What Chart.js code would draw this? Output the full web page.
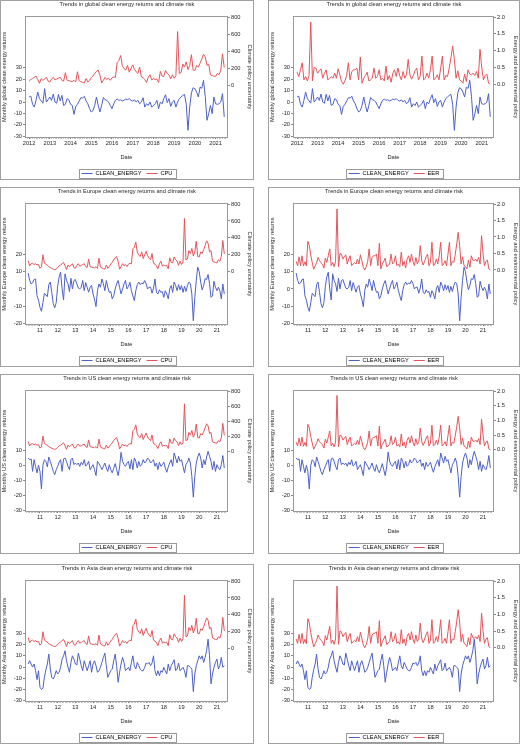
<!DOCTYPE html>
<html>
<head>
<meta charset="utf-8">
<script src="https://cdn.jsdelivr.net/npm/chart.js@4.4.1/dist/chart.umd.min.js"></script>
<style>
  html, body { margin: 0; padding: 0; background: #fff; }
  body { position: relative; width: 520px; height: 744px; overflow: hidden; }
  .panel { position: absolute; border: 1px solid #a0a0a0; box-sizing: border-box; background: #fff; }
  .panel canvas { display: block; }
</style>
</head>
<body>
<script>
// Monthly series. CPU, EER and the regional returns start in Nov 2010, the global returns in Jul 2012.
const seriesStart = [2010, 11];
const globalStart = [2012, 7];

// Climate policy uncertainty
const cpu = [
  130, 70,
  95, 100, 85, 95, 80, 85, 40, 60, 200, 100, 90, 75,
  60, 50, 40, 30, 25, 30, 50, 70, 80, 95, 110, 70,
  25, 80, 60, 75, 95, 50, 40, 75, 95, 65, 75, 85,
  95, 60, 50, 150, 60, 55, 50, 45, 60, 40, 160, 55,
  45, 35, 30, 80, 40, 60, 90, 110, 140, 165, 180, 120,
  30, 60, 95, 70, 85, 60, 90, 100, 95, 270, 290, 350,
  230, 195, 180, 235, 155, 200, 240, 190, 160, 140, 215, 100,
  90, 70, 35, 95, 125, 65, 80, 70, 75, 35, 165, 110,
  105, 175, 140, 125, 75, 125, 85, 115, 630, 140, 150, 250,
  215, 275, 185, 235, 360, 180, 175, 235, 215, 260, 310, 365,
  335, 235, 250, 125, 115, 110, 105, 140, 125, 180, 370, 210
];

// Energy and environmental policy uncertainty
const eer = [
  0.26, 0.13,
  0.40, 0.13, 0.43, 0.12, 0.25, 0.12, 0.87, 0.74, 0.45, 0.23, 0.02, 0.12,
  0.22, 0.38, 0.28, 0.22, 0.18, 0.06, 0.36, 0.23, 0.43, 0.64, 0.13, 0.23,
  0.10, 0.26, 1.85, 0.10, 0.50, 0.48, 0.33, 0.40, 0.46, 0.18, 0.33, 0.43,
  0.13, 0.18, 0.22, 0.18, 0.33, 0.18, 0.46, 0.28, 0.08, 0.00, 0.10, 0.26,
  0.64, 0.13, 0.38, 0.43, 0.43, 0.48, 0.13, 0.81, 0.03, 0.18, 0.26, 0.36,
  0.10, 0.13, 0.18, 0.48, 0.18, 0.23, 0.43, 0.13, 0.18, 0.10, 0.54, 0.13,
  0.26, 0.06, 0.33, 0.43, 0.23, 0.48, 0.26, 0.13, 0.38, 0.18, 0.28, 0.74,
  0.28, 0.15, 0.26, 0.40, 0.48, 0.13, 0.23, 0.84, 0.13, 0.18, 0.33, 0.18,
  0.43, 0.84, 0.13, 0.18, 0.28, 0.13, 0.48, 0.84, 0.13, 0.26, 0.23, 0.48,
  0.79, 1.14, 0.74, 0.18, 0.40, 0.13, 0.10, 0.03, 0.30, 0.08, 0.43, 0.30,
  0.28, 0.33, 0.26, 0.38, 0.18, 1.04, 0.51, 0.13, 0.26, 0.30, 0.03, 0.00
];

// Monthly clean energy returns (%)
const globalCE = [
  4.4, 5.2, -2, -4.4, 1.5, 8.7,
  3, 1, -1, 11.7, 0, 2, 4.4, 1.5, 7, 0, -1, 6.7,
  1, 5.8, -3, -2, 3, 2, -2, -3, -10.8, -4, -2, 1,
  3.8, 3.5, 5, 1, -1.5, -5.8, -8.7, -7.5, -3, 4.4, -3, -8.7,
  -3, 4, 2, 1.5, 0, -3, -5.8, -1.5, 1.5, 2.6, 1.5, 2,
  1, 1.5, 2.6, 2, 3, 1.5, 0.8, 2, 0, 1.5, -1.5, 0,
  3.8, -4.4, -1.5, -3, 0, -4.4, -3, -1.5, 1.5, -5.8, 0, -1.5,
  3, 6.4, -0.5, 3, -3.8, 0, 1.5, -4.4, 0, 3, 4.4, 5.8,
  6.7, -2, -24.8, -4.4, 8, 12.5, 11.7, 8.7, 4.4, 13, 12, 19,
  5, -16, -10.2, -3, -10.2, 4.4, -1.5, -2, -1.5, 0, 7.3, -13
];
const europeCE = [
  9.2, 5,
  2.9, 3.5, 5.5, 5.8, -4, -6.5, -10.7, -13, -8, -2.5, -3.5, -4.5,
  2.5, 4, -2, -8.5, -11, -8, 1.5, 7, 9.7, 0, -6.4, 8.8,
  4.9, 3, -1.5, 6.2, 0, 4.9, 5.5, 3, 0.5, 0, 1, 4.9,
  -1, 3.7, 1, -1.9, 1, 2, -2.9, -6, -10.3, -1, 2.9, 1,
  5.8, 3, -1, 4.9, 1, -2, -1.5, -5.8, -4, 0, 2.9, 4.9,
  1, -2.9, 0, 2.9, 4.9, 0, 1.5, 3.9, -1, -4, -6.8, -1,
  2.5, 4, 2.5, 3.5, 3, 4.9, 3, 0, 1, 1, -2.5, 0.5,
  5.8, -2, -2.9, -0.5, -2, -1.5, -4.9, -1, -2.9, -5.8, 0, 2,
  -2, 4, 2, -1, 2.5, -0.5, 2, -2, 1.5, -1.5, 2, 4,
  3, -3, -18.5, -5, 5, 12.7, 10, 4, -0.5, 2, 6, 5.5,
  8.4, 3, -4.9, -4, 4.5, 1, -1, 1, -1, -5.8, 2.9, -2.9
];
const usCE = [
  4.8, 3.7,
  4.2, -4, 3.7, -0.7, -5, 0, -4, -15.6, 0, 3.7, 2.6, -1,
  5.5, 2.6, -0.7, -4, -6.2, -2.9, -0.7, 2, 3.7, -4, 4.2, 4.8,
  2.6, -0.7, -2.9, 3.7, 4.8, 0.4, 1.5, 0.4, 1.5, -0.7, 2, 0.4,
  3.7, -0.5, 0.4, 2.6, -2.9, -1.1, 0.4, -2.9, -6.8, 2.6, 1.1, -0.7,
  -2.9, -0.7, 1.5, -1.8, -4, 0.4, -2.9, -5, -2, 1.1, -2.9, -6.8,
  -1.1, 8.6, 2.6, 0.4, -0.7, 1.5, 2.6, -2.4, 3.7, -2.9, 4.8, 2.6,
  -1.8, 2.6, -0.7, 0.4, 3.7, 1.5, 2.6, 4.8, 3.7, 1.5, 2.6, 3.7,
  -0.7, 1.5, -2.9, 2, -0.7, 0.4, 2, -1.8, -4.6, -1.1, 1.5, 3.7,
  -0.7, 8.1, 4.8, 1.5, 5.9, 2.6, 3.7, -0.7, -5, 0.4, 2, 4.8,
  1.5, -7.3, -21, -7.3, 1.5, 5.5, 8.1, 4.8, -1.8, 3.7, 0.4, 5.5,
  9.2, 5.9, 2.6, -2.9, 2.6, -4, 0.4, -1.8, -2.9, 0.4, 6.4, -1.8
];
const asiaCE = [
  2.7, 5.6,
  2.7, 0, 2.7, -3.3, -11.2, -3.3, -18, -20, -19, -9.2, -2.5, 2.7,
  11.5, -1.8, -9.2, -10.7, -7.7, -3.3, -6.2, -4.7, -0.3, 7.1, 10, 14.5,
  5.6, 0, -4.7, 4.1, 10, 7.1, 2.7, 1.8, 12.4, 7.1, 1.2, -3.3,
  5.6, 1.2, -3.3, 1.2, 5.6, -4.7, 2.7, 5.6, 1.2, -4.7, -3.3, -0.3,
  4.1, 8.6, 12.4, 1.2, -9.2, -6.2, -3.3, -1.8, 5.6, 11.5, 1.2, -13.6,
  -4.7, 2.7, 8.6, 4.1, -3.3, -1.8, -0.3, -3.3, 4.1, 10, 1.2, -1.8,
  4.1, 1.2, -1.8, -3.3, -3.3, -0.3, 3.6, 2.7, 4.1, 1.2, 3.6, 10,
  -3.3, -7.7, -3.3, -7.7, -3.3, -4.7, -0.3, -3.3, -6.2, 2.7, -3.3, 1.2,
  3.6, 6.5, -3.3, -1.8, 3.6, -3.3, -1.8, -0.3, -3.3, -9.2, 1.2, 1.2,
  -0.3, -1.8, -21.9, -6.2, 1.2, 5.6, 10, 7.1, 10, 4.1, 8.6, 14.5,
  24.9, 10, -15, -6.2, -0.3, 4.1, 7.1, -1.8, 1.2, 8.6, -0.3, 1.2
];

// Labels
const regions = ['global', 'Europe', 'US', 'Asia'];
const yearLabelsLong = ['2012', '2013', '2014', '2015', '2016', '2017', '2018', '2019', '2020', '2021'];
const yearLabelsShort = ['11', '12', '13', '14', '15', '16', '17', '18', '19', '20', '21'];
const leftTickSets = [
  [-30, -20, -10, 0, 10, 20, 30],
  [-20, -10, 0, 10, 20],
  [-30, -20, -10, 0, 10],
  [-30, -20, -10, 0, 10, 20, 30]
];
const cpuTicks = [0, 200, 400, 600, 800];
const eerTicks = [0, 0.5, 1, 1.5, 2];

// Panel geometry and axis ranges
const rows = [
  { top: 0,   ce: globalCE, start: globalStart, years: yearLabelsLong, firstYear: 2012, xMin: 2012.35, xMax: 2022.05, yMin: -30.6, yMax: 74.4, cpuMin: -603, eerMin: -1.57 },
  { top: 187, ce: europeCE, start: seriesStart, years: yearLabelsShort, firstYear: 2011, xMin: 2010.71, xMax: 2022.07, yMin: -20.4, yMax: 49.4, cpuMin: -618, eerMin: -1.64 },
  { top: 374, ce: usCE,     start: seriesStart, years: yearLabelsShort, firstYear: 2011, xMin: 2010.71, xMax: 2022.07, yMin: -30.1, yMax: 48.9, cpuMin: -796, eerMin: -2.08 },
  { top: 564, ce: asiaCE,   start: seriesStart, years: yearLabelsShort, firstYear: 2011, xMin: 2010.71, xMax: 2022.07, yMin: -30.3, yMax: 76.7, cpuMin: -620, eerMin: -1.60 }
];
const cols = [{ left: 0, width: 254 }, { left: 268, width: 252 }];

const BLUE = '#4d60c4';
const RED = '#e4545a';
const GRAY = '#9a9a9a';

Chart.defaults.font.family = '"Liberation Sans", Arial, sans-serif';
Chart.defaults.font.size = 5.7;
Chart.defaults.color = '#262626';

const toPoints = (start, values) =>
  values.map((v, i) => ({ x: start[0] + (start[1] - 1 + i) / 12, y: v }));

// frame round the plot area
const plotFrame = {
  id: 'plotFrame',
  beforeDatasetsDraw(chart) {
    const { ctx, chartArea: a } = chart;
    ctx.save();
    ctx.strokeStyle = GRAY;
    ctx.lineWidth = 1;
    ctx.strokeRect(Math.round(a.left) - 0.5, Math.round(a.top) - 0.5, Math.round(a.right - a.left) + 1, Math.round(a.bottom - a.top) + 1);
    ctx.restore();
  }
};

// box round the legend
const legendFrame = {
  id: 'legendFrame',
  afterDraw(chart) {
    const hb = chart.legend && chart.legend.legendHitBoxes;
    if (!hb || !hb.length) return;
    const ctx = chart.ctx;
    const left = Math.min(...hb.map(h => h.left)) - 3;
    const right = Math.max(...hb.map(h => h.left + h.width)) + 3;
    const cy = hb[0].top + hb[0].height / 2;
    ctx.save();
    ctx.strokeStyle = GRAY;
    ctx.lineWidth = 1;
    ctx.strokeRect(Math.round(left) + 0.5, Math.round(cy - 4.5) + 0.5, Math.round(right - left), 9);
    ctx.restore();
  }
};

function monthTicks(r) {
  const ticks = [];
  for (let k = Math.ceil(r.xMin * 12); k <= Math.floor(r.xMax * 12); k++) {
    const year = Math.floor(k / 12);
    const major = (k % 12) === 6;
    const lbl = major ? (r.years[year - r.firstYear] || '') : '';
    ticks.push({ value: k / 12, major, lbl });
  }
  return ticks;
}

function lineStyle(color) {
  return {
    borderColor: color, backgroundColor: color,
    pointBorderColor: color, pointBackgroundColor: color, pointBorderWidth: 1,
    borderWidth: 1, pointRadius: 0, pointHoverRadius: 0, borderJoinStyle: 'round'
  };
}

// legend entries drawn as short lines in the series colour
function legendLabels(chart) {
  return chart.data.datasets.map((ds, i) => ({
    text: ds.label,
    datasetIndex: i,
    strokeStyle: ds.borderColor,
    fillStyle: ds.borderColor,
    lineWidth: 1,
    pointStyle: 'line',
    hidden: false
  }));
}

function makePanel(ri, ci) {
  const r = rows[ri];
  const c = cols[ci];
  const div = document.createElement('div');
  div.className = 'panel';
  div.style.left = c.left + 'px';
  div.style.top = r.top + 'px';
  div.style.width = c.width + 'px';
  div.style.height = '180px';
  const canvas = document.createElement('canvas');
  canvas.width = c.width - 2;
  canvas.height = 178;
  div.appendChild(canvas);
  document.body.appendChild(div);

  const isCpu = ci === 0;
  const offset = (r.start[0] - seriesStart[0]) * 12 + (r.start[1] - seriesStart[1]);
  const riskValues = (isCpu ? cpu : eer).slice(offset);

  new Chart(canvas, {
    type: 'line',
    data: {
      datasets: [
        Object.assign({ label: 'CLEAN_ENERGY', data: toPoints(r.start, r.ce), yAxisID: 'y' }, lineStyle(BLUE)),
        Object.assign({ label: isCpu ? 'CPU' : 'EER', data: toPoints(r.start, riskValues), yAxisID: 'y1' }, lineStyle(RED))
      ]
    },
    options: {
      responsive: false,
      animation: false,
      events: [],
      layout: { padding: 0 },
      plugins: {
        title: { display: true, text: 'Trends in ' + regions[ri] + ' clean energy returns and climate risk',
                 font: { size: 5.7, weight: 'normal' }, padding: { top: 0, bottom: 9.2 } },
        legend: {
          position: 'bottom',
          maxHeight: 13.35,
          labels: { usePointStyle: true, pointStyle: 'line', pointStyleWidth: 11, boxHeight: 5.7,
                    padding: 5, font: { size: 5.7 }, generateLabels: legendLabels }
        },
        tooltip: { enabled: false }
      },
      scales: {
        x: {
          type: 'linear', min: r.xMin, max: r.xMax,
          afterBuildTicks: s => { s.ticks = monthTicks(r); },
          afterFit: s => { s.height = 28.65; },
          border: { display: false },
          grid: { drawOnChartArea: false, tickLength: 2,
                  tickColor: ctx => (ctx.tick && ctx.tick.major) ? '#777' : '#c4c4c4' },
          ticks: { autoSkip: false, maxRotation: 0, padding: 1,
                   callback: (v, i, t) => t[i].lbl },
          title: { display: true, text: 'Date', padding: { top: 0, bottom: 4.5 } }
        },
        y: {
          position: 'left', min: r.yMin, max: r.yMax,
          afterBuildTicks: s => { s.ticks = leftTickSets[ri].map(v => ({ value: v })); },
          afterFit: s => { s.width = 25; },
          border: { display: false },
          grid: { drawOnChartArea: false, tickLength: 3, tickColor: '#888' },
          ticks: { padding: 1, callback: v => String(v) },
          title: { display: true, text: 'Monthly ' + regions[ri] + ' clean energy returns', padding: 0 }
        },
        y1: {
          position: 'right', min: isCpu ? r.cpuMin : r.eerMin, max: isCpu ? 800 : 2,
          afterBuildTicks: s => { s.ticks = (isCpu ? cpuTicks : eerTicks).map(v => ({ value: v })); },
          afterFit: s => { s.width = 26; },
          border: { display: false },
          grid: { drawOnChartArea: false, tickLength: 3, tickColor: '#888' },
          ticks: { padding: 1, callback: v => isCpu ? String(v) : v.toFixed(1) },
          title: { display: true, text: isCpu ? 'Climate policy uncertainty' : 'Energy and environmental policy', padding: 0 }
        }
      }
    },
    plugins: [plotFrame, legendFrame]
  });
}

for (let ri = 0; ri < rows.length; ri++) {
  for (let ci = 0; ci < cols.length; ci++) makePanel(ri, ci);
}
</script>
</body>
</html>
